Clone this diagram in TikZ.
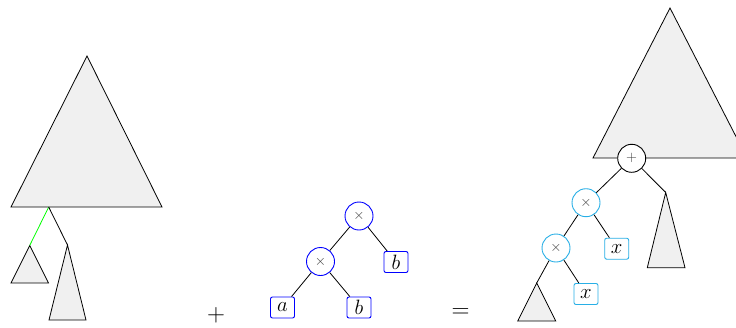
\documentclass[tikz,border=0pt]{standalone}
\usepackage{fontspec}
\definecolor{tri}{RGB}{240,240,240}
\definecolor{mycyan}{RGB}{40,175,230}
\tikzset{
  tri/.style={draw=black, fill=tri, line width=0.8pt, line join=miter},
  edge/.style={draw=black, line width=0.8pt},
  opnode/.style={circle, draw, line width=0.9pt, fill=white, minimum size=28pt, inner sep=0pt, font=\fontsize{15}{15}\selectfont},
  leaf/.style={rectangle, rounded corners=2pt, draw, line width=0.9pt, fill=white, minimum width=24pt, minimum height=21pt, inner sep=0pt, font=\fontsize{20}{22}\selectfont},
  bigsym/.style={font=\fontsize{35}{35}\selectfont, inner sep=0pt}
}
\begin{document}
\begin{tikzpicture}[x=1pt,y=-1pt]
\useasboundingbox (0,0) rectangle (736,327);
\clip (0,0) rectangle (736,327);
% ---------- left tree ----------
\draw[tri] (87,56) -- (162,207) -- (11,207) -- cycle;
\coordinate (lroot) at (48.7,207);
\coordinate (lsa) at (29.7,245.5);
\coordinate (lta) at (67.5,245);
\draw[tri] (lsa) -- (48.5,283) -- (11,283) -- cycle;
\draw[tri] (lta) -- (86,320) -- (49,320) -- cycle;
\draw[edge, draw=green] (lroot) -- (lsa);
\draw[edge] (lroot) -- (lta);
% ---------- middle tree ----------
\node[opnode, draw=blue] (m1) at (359,216) {\color{black!75}$\times$};
\node[opnode, draw=blue] (m2) at (320.5,261.5) {\color{black!75}$\times$};
\node[leaf, draw=blue] (ma) at (282.5,307.5) {$a$};
\node[leaf, draw=blue] (mb1) at (359,307.5) {$b$};
\node[leaf, draw=blue] (mb2) at (396,262) {$b$};
\draw[edge] (m1) -- (m2);
\draw[edge] (m1) -- (mb2);
\draw[edge] (m2) -- (ma);
\draw[edge] (m2) -- (mb1);
% ---------- operators ----------
\node[bigsym] (plus) at (216,315.5) {$+$};
\node[bigsym] (eq) at (460.5,313) {$=$};
% ---------- right tree ----------
\draw[tri] (670,8) -- (747,158) -- (593,158) -- cycle;
\coordinate (rta) at (665.7,192.5);
\coordinate (rsa) at (536.7,283);
\draw[tri] (rta) -- (685,267.7) -- (647.3,267.7) -- cycle;
\draw[tri] (rsa) -- (555.7,321) -- (517.7,321) -- cycle;
\node[opnode, draw=black] (r0) at (631.7,158.3) {\color{black!75}$+$};
\node[opnode, draw=mycyan] (r1) at (586,202.7) {\color{black!75}$\times$};
\node[opnode, draw=mycyan] (r2) at (556,248) {\color{black!75}$\times$};
\node[leaf, draw=mycyan] (rx1) at (616.7,248.7) {$x$};
\node[leaf, draw=mycyan] (rx2) at (586,294) {$x$};
\draw[edge] (r0) -- (r1);
\draw[edge] (r0) -- (rta);
\draw[edge] (r1) -- (r2);
\draw[edge] (r1) -- (rx1);
\draw[edge] (r2) -- (rsa);
\draw[edge] (r2) -- (rx2);
\end{tikzpicture}
\end{document}
